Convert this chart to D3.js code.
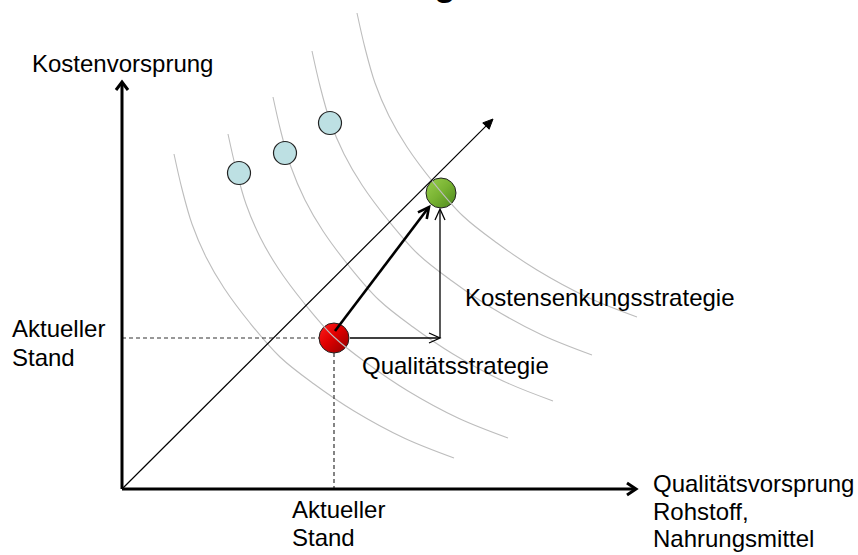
<!DOCTYPE html>
<html>
<head>
<meta charset="utf-8">
<script src="https://cdn.jsdelivr.net/npm/d3@7"></script>
<style>
  body { margin: 0; background: #fff; }
  svg text { font-family: "Liberation Sans", Arial, sans-serif; fill: #000; }
</style>
</head>
<body>
<div id="chart"></div>
<script>
// --- data (units: px right / up from the axis origin) ---
var titleText = "Strategie";
var axisLabelsY = ["Kostenvorsprung"];
var axisLabelsX = ["Qualitätsvorsprung", "Rohstoff,", "Nahrungsmittel"];
var standLabel = ["Aktueller", "Stand"];
var strategyLabels = ["Kostensenkungsstrategie", "Qualitätsstrategie"];

var xAxisEnd = 514, yAxisEnd = 407;
var diagonalEnd = [371, 370];

// iso-curves
var curveA = [[52,335],[60,300],[70,265],[84,232],[102,201],[128,166],[158,132],[192,105],[232,78],[282,51],[332,31]];
var curveB = [[106,355],[114,320],[124,285],[138,252],[156,221],[182,186],[212,152],[246,125],[286,98],[336,71],[386,51]];
var curveC = [[151,392],[159,357],[169,322],[183,289],[201,258],[227,223],[257,189],[291,162],[331,135],[381,108],[431,88]];
var curveD = [[190,438],[198,403],[208,368],[222,335],[240,304],[266,269],[296,235],[330,208],[370,181],[420,154],[470,134]];
var curveE = [[235,476],[243,441],[253,406],[267,373],[285,342],[311,307],[341,273],[375,246],[415,219],[465,192],[515,172]];
var curves = [curveA, curveB, curveC, curveD, curveE];

var competitors = [[117,316],[163,336],[208,366]];
var current = [212,151];
var target = [319,296];

// --- layout ---
var width = 858, height = 555;
var origin = { x: 122, y: 489 };

var xScale = d3.scaleLinear().domain([0, 736]).range([origin.x, origin.x + 736]);
var yScale = d3.scaleLinear().domain([0, 489]).range([origin.y, 0]);

var svg = d3.select("#chart").append("svg")
    .attr("width", width)
    .attr("height", height);

var defs = svg.append("defs");
var gRed = defs.append("linearGradient").attr("id", "gRed")
    .attr("x1", 0).attr("y1", 0).attr("x2", 1).attr("y2", 1);
gRed.append("stop").attr("offset", "0%").attr("stop-color", "#ff2020");
gRed.append("stop").attr("offset", "45%").attr("stop-color", "#e00000");
gRed.append("stop").attr("offset", "100%").attr("stop-color", "#8c0000");
var gGreen = defs.append("linearGradient").attr("id", "gGreen")
    .attr("x1", 0).attr("y1", 0).attr("x2", 1).attr("y2", 1);
gGreen.append("stop").attr("offset", "0%").attr("stop-color", "#9ad04e");
gGreen.append("stop").attr("offset", "50%").attr("stop-color", "#78b232");
gGreen.append("stop").attr("offset", "100%").attr("stop-color", "#4a861c");

// arrow head: chevron (open) or triangle (filled), tip at (x,y)
function arrowHead(g, x, y, angle, len, half, filled, sw) {
    var ca = Math.cos(angle), sa = Math.sin(angle);
    var bx = x - len * ca, by = y - len * sa;
    var p1 = [bx - half * sa, by + half * ca];
    var p2 = [bx + half * sa, by - half * ca];
    var d = "M" + p1 + "L" + x + "," + y + "L" + p2;
    g.append("path")
        .attr("d", filled ? d + "Z" : d)
        .attr("fill", filled ? "#000" : "none")
        .attr("stroke", "#000")
        .attr("stroke-width", sw)
        .attr("stroke-linejoin", "miter");
}

function arrow(g, from, to, sw, len, half, filled, hsw) {
    var x1 = xScale(from[0]), y1 = yScale(from[1]);
    var x2 = xScale(to[0]), y2 = yScale(to[1]);
    var a = Math.atan2(y2 - y1, x2 - x1);
    var back = filled ? len : 1;
    g.append("line")
        .attr("x1", x1).attr("y1", y1)
        .attr("x2", x2 - back * Math.cos(a)).attr("y2", y2 - back * Math.sin(a))
        .attr("stroke", "#000").attr("stroke-width", sw);
    arrowHead(g, x2, y2, a, len, half, filled, hsw);
}

// title, only its descender shows
var title = svg.append("text")
    .attr("y", -5)
    .style("font-size", "36px")
    .style("font-weight", "bold")
    .text(titleText);
var gPos = title.node().getStartPositionOfChar(titleText.indexOf("g")).x;
title.attr("x", 434 - gPos);

// red + green dots (curves run over them)
svg.append("circle")
    .attr("cx", xScale(current[0])).attr("cy", yScale(current[1])).attr("r", 15)
    .attr("fill", "url(#gRed)").attr("stroke", "#222").attr("stroke-width", 1);
svg.append("circle")
    .attr("cx", xScale(target[0])).attr("cy", yScale(target[1])).attr("r", 15)
    .attr("fill", "url(#gGreen)").attr("stroke", "#222").attr("stroke-width", 1);

// iso-curves
var line = d3.line()
    .x(function(d) { return xScale(d[0]); })
    .y(function(d) { return yScale(d[1]); })
    .curve(d3.curveCatmullRom.alpha(0.5));

svg.selectAll(".iso")
    .data(curves)
    .enter().append("path")
    .attr("class", "iso")
    .attr("d", line)
    .attr("fill", "none")
    .attr("stroke", "#bdbdbd")
    .attr("stroke-width", 1.1);

// competitor dots
svg.selectAll(".comp")
    .data(competitors)
    .enter().append("circle")
    .attr("class", "comp")
    .attr("cx", function(d) { return xScale(d[0]); })
    .attr("cy", function(d) { return yScale(d[1]); })
    .attr("r", 11.5)
    .attr("fill", "#bde0e3")
    .attr("stroke", "#222")
    .attr("stroke-width", 1.2);

// dashed guides to the current position
var dash = svg.append("g")
    .attr("stroke", "#333").attr("stroke-width", 1.2).attr("stroke-dasharray", "4,3");
dash.append("line")
    .attr("x1", xScale(0)).attr("y1", yScale(current[1]))
    .attr("x2", xScale(current[0]) - 15).attr("y2", yScale(current[1]));
dash.append("line")
    .attr("x1", xScale(current[0])).attr("y1", yScale(current[1]) + 15)
    .attr("x2", xScale(current[0])).attr("y2", yScale(0));

var marks = svg.append("g");

// diagonal
arrow(marks, [0, 0], diagonalEnd, 1.2, 10, 4.5, true, 1);

// strategy arrows
var corner = [target[0] - 1, current[1]];
arrow(marks, [current[0] + 16, current[1]], corner, 1.3, 11, 5, false, 1.3);
arrow(marks, corner, [target[0] - 1, target[1] - 16], 1.3, 11, 5, false, 1.3);
arrow(marks, [current[0] + 1, current[1] + 7], [target[0] - 12, target[1] - 14], 2.6, 11, 5.5, false, 2.6);

// axes
arrow(marks, [0, 0], [0, yAxisEnd], 3, 8, 6, false, 3);
arrow(marks, [0, 0], [xAxisEnd, 0], 3, 9, 6, false, 3);

// labels
function multiText(lines, x, y, lh) {
    var t = svg.append("text").style("font-size", "24px");
    lines.forEach(function(s, i) {
        t.append("tspan").attr("x", x).attr("y", y + i * lh).text(s);
    });
    return t;
}
multiText(axisLabelsY, 32, 72, 28);
multiText(axisLabelsX, 653, 492, 27.5);
multiText(standLabel, 12, 337, 29);
multiText(standLabel, 292, 518, 28);
multiText([strategyLabels[0]], 465, 306, 28);
multiText([strategyLabels[1]], 362, 374, 28);
</script>
</body>
</html>
